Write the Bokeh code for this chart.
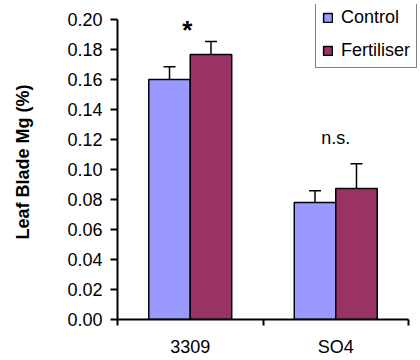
from bokeh.plotting import figure
from bokeh.models import (ColumnDataSource, FixedTicker, Range1d, Whisker, Legend, LegendItem,
                          TeeHead, Label, PrintfTickFormatter)
from bokeh.embed import file_html
from bokeh.resources import INLINE

categories = ["3309", "SO4"]
series = ["Control", "Fertiliser"]
control = [0.160, 0.078]
control_err = [0.0085, 0.0078]
fertiliser = [0.1767, 0.0873]
fertiliser_err = [0.0087, 0.0165]
colors = ["#9999FF", "#993366"]
sig_labels = ["*", "n.s."]
sig_y = [0.1927, 0.121]
y_ticks = [0.00, 0.02, 0.04, 0.06, 0.08, 0.10, 0.12, 0.14, 0.16, 0.18, 0.20]
y_max = 0.20

FONT = "Liberation Sans"
FS = "18px"
bar_w = 0.285
n = len(categories)
centers = [i + 0.5 for i in range(n)]

# frame extended past the axes so the legend (which sits above/right of the axes) is not clipped
p = figure(width=420, height=360, output_backend="svg", toolbar_location=None,
           x_range=Range1d(0, n * 303 / 291), y_range=Range1d(0, y_max * 315 / 300),
           min_border_left=117, min_border_right=0, min_border_top=4, min_border_bottom=41)
p.outline_line_color = None
p.grid.visible = False
p.background_fill_color = "white"
p.border_fill_color = "white"

renderers = []
for k, (vals, errs) in enumerate([(control, control_err), (fertiliser, fertiliser_err)]):
    off = (k - 0.5) * bar_w
    xs = [c + off for c in centers]
    src = ColumnDataSource(dict(x=xs, top=vals, lo=[v - e for v, e in zip(vals, errs)],
                                hi=[v + e for v, e in zip(vals, errs)]))
    r = p.vbar(x="x", top="top", bottom=0, width=bar_w, source=src,
               fill_color=colors[k], line_color="black", line_width=1.5)
    renderers.append(r)
    w = Whisker(base="x", lower="lo", upper="hi", source=src, line_color="black", line_width=1.5,
                lower_head=TeeHead(size=12, line_color="black", line_width=1.5),
                upper_head=TeeHead(size=12, line_color="black", line_width=1.5))
    p.add_layout(w)

for c, s, y in zip(centers, sig_labels, sig_y):
    star = s == "*"
    p.add_layout(Label(x=c - 0.02 if star else c, y=y, text=s, text_align="center",
                       text_baseline="middle", text_font=FONT,
                       text_font_size="26px" if star else FS,
                       text_color="black", text_font_style="bold" if star else "normal"))

# y axis
p.yaxis.bounds = (0, y_max)
p.yaxis.ticker = FixedTicker(ticks=y_ticks)
p.yaxis.formatter = PrintfTickFormatter(format="%.2f")
p.yaxis.axis_label = "Leaf Blade Mg (%)"
p.yaxis.axis_label_text_font = FONT
p.yaxis.axis_label_text_font_size = FS
p.yaxis.axis_label_text_font_style = "bold"
p.yaxis.axis_label_text_color = "black"
p.yaxis.axis_label_standoff = 31
p.yaxis.major_label_text_font = FONT
p.yaxis.major_label_text_font_size = FS
p.yaxis.major_label_text_color = "black"
p.yaxis.major_label_standoff = 8
p.yaxis.major_tick_out = 7
p.yaxis.major_tick_in = 0
p.yaxis.minor_tick_out = 0
p.yaxis.minor_tick_in = 0
p.yaxis.axis_line_width = 2
p.yaxis.axis_line_color = "black"
p.yaxis.major_tick_line_width = 2
p.yaxis.major_tick_line_color = "black"

# x axis
p.xaxis.bounds = (0, n)
p.xaxis.ticker = FixedTicker(ticks=centers, minor_ticks=list(range(n + 1)))
p.xaxis.major_label_overrides = {c: cat for c, cat in zip(centers, categories)}
p.xaxis.major_label_text_font = FONT
p.xaxis.major_label_text_font_size = FS
p.xaxis.major_label_text_color = "black"
p.xaxis.major_tick_out = 0
p.xaxis.major_tick_in = 0
p.xaxis.minor_tick_out = 6
p.xaxis.minor_tick_in = 0
p.xaxis.minor_tick_line_width = 2
p.xaxis.minor_tick_line_color = "black"
p.xaxis.axis_line_width = 2
p.xaxis.axis_line_color = "black"
p.xaxis.major_label_standoff = 11

legend = Legend(items=[LegendItem(label=s, renderers=[r]) for s, r in zip(series, renderers)],
                location=(198, 251), border_line_color="black", border_line_width=1,
                background_fill_color="white", background_fill_alpha=1,
                label_text_font=FONT, label_text_font_size=FS, label_text_color="black",
                glyph_width=11, glyph_height=11, label_standoff=8, spacing=12,
                padding=6, margin=0, label_height=20)
p.add_layout(legend)

open("out.html", "w").write(file_html(p, INLINE))
